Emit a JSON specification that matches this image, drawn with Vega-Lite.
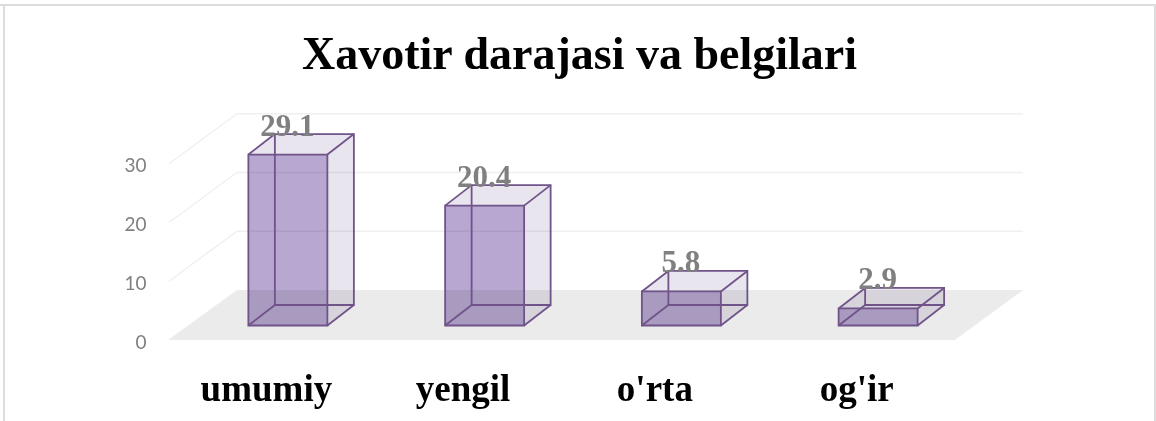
{"$schema":"https://vega.github.io/schema/vega-lite/v6.json","width":787,"height":235,"autosize":"none","padding":{"left":168,"top":105,"right":201,"bottom":81},"background":"white","config":{"view":{"stroke":null}},
"title":{"text":"Xavotir darajasi va belgilari","font":"Liberation Serif","fontWeight":"bold","fontSize":46,"color":"#000000","anchor":"middle","frame":"group","dx":18,"dy":149,"offset":38,"baseline":"alphabetic"},
"data":{"values":[{"cat":"umumiy","value":29.1},{"cat":"yengil","value":20.4},{"cat":"o'rta","value":5.8},{"cat":"og'ir","value":2.9}]},
"encoding":{"x":{"field":"cat","type":"nominal","scale":{"domain":["umumiy","yengil","o'rta","og'ir"],"paddingInner":0,"paddingOuter":0},"axis":{"title":null,"labelAngle":0,"domain":false,"ticks":false,"grid":false,"labelFont":"Liberation Serif","labelFontWeight":"bold","labelFontSize":37,"labelColor":"#000000","labelBaseline":"alphabetic","labelPadding":60,"labelOffset":{"condition":{"test":"datum.value === \"o'rta\"","value":-5},"value":0},"zindex":1}},"y":{"field":"value","type":"quantitative","scale":{"domain":[0,40],"nice":false},"axis":{"title":null,"values":[0,10,20,30],"domain":false,"ticks":false,"grid":false,"labelFont":"Lato","labelFontSize":19,"labelColor":"#808080","labelPadding":22,"labelOffset":2,"zindex":1}}},
"layer":[
{"mark":{"type":"bar","width":79,"color":"#E9E5EE","xOffset":21.5,"yOffset":-14.5,"y2Offset":-14.5},"encoding":{"y2":{"datum":0}}},
{"mark":{"type":"bar","width":79,"color":"#E9E5EE","xOffset":23.4,"yOffset":-16,"y2Offset":-16},"encoding":{"y2":{"datum":0}}},
{"mark":{"type":"bar","width":79,"color":"#E9E5EE","xOffset":25.3,"yOffset":-17.4,"y2Offset":-17.4},"encoding":{"y2":{"datum":0}}},
{"mark":{"type":"bar","width":79,"color":"#E9E5EE","xOffset":27.2,"yOffset":-18.9,"y2Offset":-18.9},"encoding":{"y2":{"datum":0}}},
{"mark":{"type":"bar","width":79,"color":"#E9E5EE","xOffset":29.1,"yOffset":-20.4,"y2Offset":-20.4},"encoding":{"y2":{"datum":0}}},
{"mark":{"type":"bar","width":79,"color":"#E9E5EE","xOffset":31,"yOffset":-21.8,"y2Offset":-21.8},"encoding":{"y2":{"datum":0}}},
{"mark":{"type":"bar","width":79,"color":"#E9E5EE","xOffset":32.9,"yOffset":-23.3,"y2Offset":-23.3},"encoding":{"y2":{"datum":0}}},
{"mark":{"type":"bar","width":79,"color":"#E9E5EE","xOffset":34.7,"yOffset":-24.7,"y2Offset":-24.7},"encoding":{"y2":{"datum":0}}},
{"mark":{"type":"bar","width":79,"color":"#E9E5EE","xOffset":36.6,"yOffset":-26.2,"y2Offset":-26.2},"encoding":{"y2":{"datum":0}}},
{"mark":{"type":"bar","width":79,"color":"#E9E5EE","xOffset":38.5,"yOffset":-27.7,"y2Offset":-27.7},"encoding":{"y2":{"datum":0}}},
{"mark":{"type":"bar","width":79,"color":"#E9E5EE","xOffset":40.4,"yOffset":-29.1,"y2Offset":-29.1},"encoding":{"y2":{"datum":0}}},
{"mark":{"type":"bar","width":79,"color":"#E9E5EE","xOffset":42.3,"yOffset":-30.6,"y2Offset":-30.6},"encoding":{"y2":{"datum":0}}},
{"mark":{"type":"bar","width":79,"color":"#E9E5EE","xOffset":44.2,"yOffset":-32.1,"y2Offset":-32.1},"encoding":{"y2":{"datum":0}}},
{"mark":{"type":"bar","width":79,"color":"#E9E5EE","xOffset":46.1,"yOffset":-33.5,"y2Offset":-33.5},"encoding":{"y2":{"datum":0}}},
{"mark":{"type":"bar","width":79,"color":"#E9E5EE","xOffset":48,"yOffset":-35,"y2Offset":-35},"encoding":{"y2":{"datum":0}}},
{"data":{"values":[{"level":0}]},"mark":{"type":"rule","color":"#EBEBEB","strokeWidth":50,"blend":"multiply","xOffset":-98.4,"x2Offset":166.4,"yOffset":-25},"encoding":{"x":{"datum":"umumiy"},"x2":{"datum":"og'ir"},"y":{"field":"level","type":"quantitative"}}},
{"data":{"values":[{"level":0}]},"mark":{"type":"rule","color":"#FFFFFF","strokeWidth":60,"xOffset":-120,"x2Offset":-47,"yOffset":-21.3,"y2Offset":-74.3},"encoding":{"x":{"datum":"umumiy"},"x2":{"datum":"umumiy"},"y":{"field":"level","type":"quantitative"},"y2":{"field":"level"}}},
{"data":{"values":[{"level":0}]},"mark":{"type":"rule","color":"#FFFFFF","strokeWidth":60,"xOffset":91.7,"x2Offset":208.3,"yOffset":41.9,"y2Offset":-43.3},"encoding":{"x":{"datum":"og'ir"},"x2":{"datum":"og'ir"},"y":{"field":"level","type":"quantitative"},"y2":{"field":"level"}}},
{"data":{"values":[{"tick":10},{"tick":20},{"tick":30}]},"mark":{"type":"rule","color":"#F0F0F0","strokeWidth":1.5,"blend":"multiply","xOffset":-29.4,"x2Offset":166.4,"yOffset":-50},"encoding":{"x":{"datum":"umumiy"},"x2":{"datum":"og'ir"},"y":{"field":"tick","type":"quantitative"}}},
{"data":{"values":[{"tick":10},{"tick":20},{"tick":30}]},"mark":{"type":"rule","color":"#F0F0F0","strokeWidth":1.5,"blend":"multiply","xOffset":-97.4,"x2Offset":-29.4,"y2Offset":-50},"encoding":{"x":{"datum":"umumiy"},"x2":{"datum":"umumiy"},"y":{"field":"tick","type":"quantitative"},"y2":{"field":"tick"}}},
{"mark":{"type":"bar","width":79,"fill":"#CABAE0","blend":"multiply","xOffset":21.5,"yOffset":-14.5,"y2Offset":-14.5},"encoding":{"y2":{"datum":0}}},
{"mark":{"type":"bar","width":79,"fillOpacity":0,"stroke":"#6F5389","strokeWidth":1.8,"xOffset":48,"yOffset":-35,"y2Offset":-35},"encoding":{"y2":{"datum":0}}},
{"mark":{"type":"bar","width":79,"fillOpacity":0,"stroke":"#6F5389","strokeWidth":1.8,"xOffset":21.5,"yOffset":-14.5,"y2Offset":-14.5},"encoding":{"y2":{"datum":0}}},
{"mark":{"type":"rule","color":"#6F5389","strokeWidth":1.8,"xOffset":-18,"x2Offset":8.5,"yOffset":-14.5,"y2Offset":-35},"encoding":{"x2":{"field":"cat"},"y2":{"field":"value"}}},
{"mark":{"type":"rule","color":"#6F5389","strokeWidth":1.8,"xOffset":61,"x2Offset":87.5,"yOffset":-14.5,"y2Offset":-35},"encoding":{"x2":{"field":"cat"},"y2":{"field":"value"}}},
{"mark":{"type":"rule","color":"#6F5389","strokeWidth":1.8,"xOffset":-18,"x2Offset":8.5,"yOffset":-14.5,"y2Offset":-35},"encoding":{"x2":{"field":"cat"},"y":{"datum":0},"y2":{"datum":0}}},
{"mark":{"type":"rule","color":"#6F5389","strokeWidth":1.8,"xOffset":61,"x2Offset":87.5,"yOffset":-14.5,"y2Offset":-35},"encoding":{"x2":{"field":"cat"},"y":{"datum":0},"y2":{"datum":0}}},
{"mark":{"type":"text","font":"Liberation Serif","fontWeight":"bold","fontSize":31,"color":"#808080","align":"center","baseline":"alphabetic","xOffset":21,"yOffset":-33.5},"encoding":{"text":{"field":"value","type":"quantitative","format":".1f"}}},
{"data":{"values":[{"level":40}]},"mark":{"type":"rule","color":"#DCDCDC","strokeWidth":2,"xOffset":-266.4,"x2Offset":299.4,"yOffset":-100},"encoding":{"x":{"datum":"umumiy"},"x2":{"datum":"og'ir"},"y":{"field":"level","type":"quantitative"}}},
{"data":{"values":[{"level":40}]},"mark":{"type":"rule","color":"#DCDCDC","strokeWidth":2,"xOffset":-262.4,"yOffset":-100,"y2Offset":81},"encoding":{"x":{"datum":"umumiy"},"y":{"field":"level","type":"quantitative"},"y2":{"datum":0}}},
{"data":{"values":[{"level":40}]},"mark":{"type":"rule","color":"#DCDCDC","strokeWidth":2,"xOffset":298.4,"yOffset":-100,"y2Offset":81},"encoding":{"x":{"datum":"og'ir"},"y":{"field":"level","type":"quantitative"},"y2":{"datum":0}}}
]}
